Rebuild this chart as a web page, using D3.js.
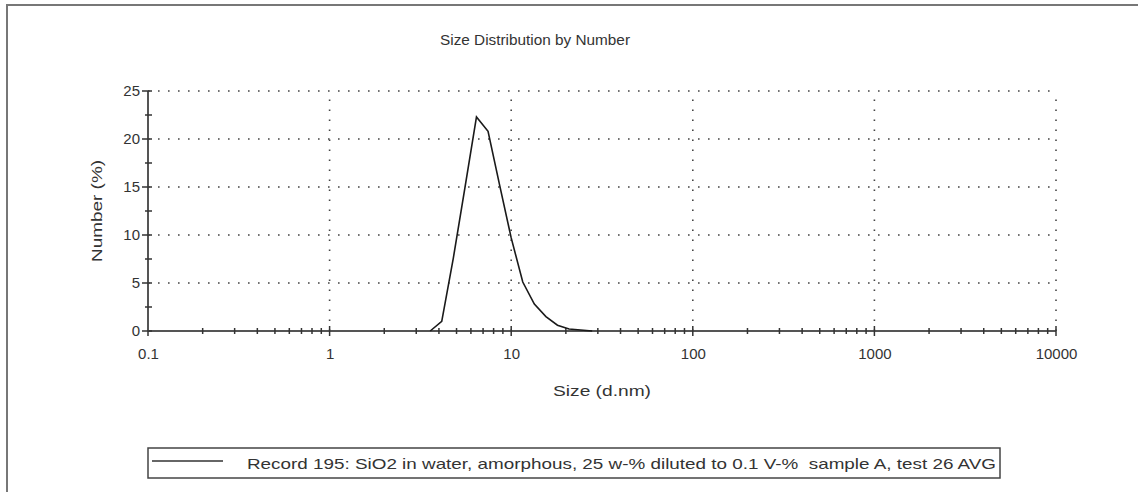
<!DOCTYPE html>
<html>
<head>
<meta charset="utf-8">
<script src="https://cdn.jsdelivr.net/npm/d3@7"></script>
<style>
  body { margin: 0; background: #fff; }
  svg { display: block; font-family: "Liberation Sans", Arial, sans-serif; }
</style>
</head>
<body>
<div class="chart"></div>
<script>
// size classes (d.nm) and number %
const sizes = [3.58, 4.145, 4.801, 5.56, 6.439, 7.456, 8.635, 10.0, 11.58, 13.41, 15.53, 17.98, 20.82, 24.11, 27.92];
const numbers = [0, 1.0, 7.6, 14.9, 22.3, 20.8, 15.2, 9.7, 5.1, 2.8, 1.5, 0.6, 0.2, 0.1, 0];
const xTickValues = [0.1, 1, 10, 100, 1000, 10000];
const xTickLabels = ['0.1', '1', '10', '100', '1000', '10000'];
const yTickValues = [0, 5, 10, 15, 20, 25];
const yMinorValues = [2.5, 7.5, 12.5, 17.5, 22.5];

const width = 1138, height = 492;
const plot = { left: 148, right: 1056, top: 91, bottom: 331 };
const ink = '#333';

const svg = d3.select('.chart').append('svg')
  .attr('width', width)
  .attr('height', height);

// outer frame (top + left edges are visible)
svg.append('path')
   .attr('d', `M7,${height} L7,5 L${width},5`)
   .attr('fill', 'none')
   .attr('stroke', '#777')
   .attr('stroke-width', 2);

const x = d3.scaleLog().domain([0.1, 10000]).range([plot.left, plot.right]);
const y = d3.scaleLinear().domain([0, 25]).range([plot.bottom, plot.top]);

// title
svg.append('text')
   .attr('x', 535).attr('y', 45)
   .attr('text-anchor', 'middle')
   .attr('font-size', 14)
   .attr('fill', ink)
   .attr('textLength', 190)
   .attr('lengthAdjust', 'spacingAndGlyphs')
   .text('Size Distribution by Number');

// dotted grid
const grid = svg.append('g')
   .attr('stroke', '#444')
   .attr('stroke-width', 1.6)
   .attr('stroke-dasharray', '1.6 8.4');
grid.selectAll('.hgrid')
   .data(yTickValues.filter(d => d > 0))
   .join('line')
   .attr('x1', plot.left).attr('x2', plot.right)
   .attr('y1', d => y(d)).attr('y2', d => y(d));
grid.selectAll('.vgrid')
   .data(xTickValues.filter(d => d > 0.1))
   .join('line')
   .attr('x1', d => x(d)).attr('x2', d => x(d))
   .attr('y1', plot.bottom).attr('y2', plot.top);

// x axis
const xAxis = svg.append('g')
   .attr('transform', `translate(0, ${plot.bottom})`)
   .call(d3.axisBottom(x).tickValues(xTickValues).tickSize(0).tickPadding(17)
           .tickFormat((d, i) => xTickLabels[i]))
   .call(g => g.select('.domain').remove());
xAxis.selectAll('text')
   .attr('font-size', 15)
   .attr('fill', ink)
   .attr('font-family', '"Liberation Sans", Arial, sans-serif');

svg.append('line')
   .attr('x1', plot.left).attr('x2', plot.right)
   .attr('y1', plot.bottom).attr('y2', plot.bottom)
   .attr('stroke', '#555').attr('stroke-width', 2);

// minor x ticks from the log scale, major ticks a bit longer
svg.append('g').selectAll('line')
   .data(x.ticks())
   .join('line')
   .attr('x1', d => x(d)).attr('x2', d => x(d))
   .attr('y1', d => xTickValues.includes(d) ? plot.bottom - 5 : plot.bottom - 3)
   .attr('y2', d => xTickValues.includes(d) ? plot.bottom + 5 : plot.bottom + 3)
   .attr('stroke', '#333').attr('stroke-width', 1.5);

// y axis
const yAxis = svg.append('g')
   .attr('transform', `translate(${plot.left}, 0)`)
   .call(d3.axisLeft(y).tickValues(yTickValues).tickSize(0).tickPadding(8))
   .call(g => g.select('.domain').remove());
yAxis.selectAll('text')
   .attr('font-size', 15)
   .attr('fill', ink)
   .attr('font-family', '"Liberation Sans", Arial, sans-serif');

svg.append('line')
   .attr('x1', plot.left).attr('x2', plot.left)
   .attr('y1', plot.bottom).attr('y2', plot.top)
   .attr('stroke', '#555').attr('stroke-width', 2);

svg.append('g').selectAll('line')
   .data(yTickValues.concat(yMinorValues))
   .join('line')
   .attr('x1', d => plot.left - (yTickValues.includes(d) ? 6 : 3))
   .attr('x2', d => plot.left + 4)
   .attr('y1', d => y(d)).attr('y2', d => y(d))
   .attr('stroke', '#333').attr('stroke-width', 1.5);

// axis titles
svg.append('text')
   .attr('transform', `translate(102, ${(plot.top + plot.bottom) / 2}) rotate(-90)`)
   .attr('text-anchor', 'middle')
   .attr('font-size', 15)
   .attr('fill', ink)
   .attr('textLength', 102)
   .attr('lengthAdjust', 'spacingAndGlyphs')
   .text('Number (%)');

svg.append('text')
   .attr('x', (plot.left + plot.right) / 2).attr('y', 396)
   .attr('text-anchor', 'middle')
   .attr('font-size', 15)
   .attr('fill', ink)
   .attr('textLength', 98)
   .attr('lengthAdjust', 'spacingAndGlyphs')
   .text('Size (d.nm)');

// distribution curve
const line = d3.line()
   .x((d, i) => x(sizes[i]))
   .y(d => y(d));
svg.append('path')
   .datum(numbers)
   .attr('d', line)
   .attr('fill', 'none')
   .attr('stroke', '#1a1a1a')
   .attr('stroke-width', 1.6);

// legend
const legend = svg.append('g');
legend.append('rect')
   .attr('x', 148).attr('y', 448)
   .attr('width', 852).attr('height', 30)
   .attr('fill', '#fff')
   .attr('stroke', '#444').attr('stroke-width', 1.5);
legend.append('line')
   .attr('x1', 152).attr('x2', 223)
   .attr('y1', 461).attr('y2', 461)
   .attr('stroke', '#333').attr('stroke-width', 1.5);
legend.append('text')
   .attr('x', 247).attr('y', 469)
   .attr('font-size', 15)
   .attr('fill', ink)
   .attr('textLength', 749)
   .attr('lengthAdjust', 'spacingAndGlyphs')
   .attr('xml:space', 'preserve')
   .text('Record 195: SiO2 in water, amorphous, 25 w-% diluted to 0.1 V-%  sample A, test 26 AVG');
</script>
</body>
</html>
